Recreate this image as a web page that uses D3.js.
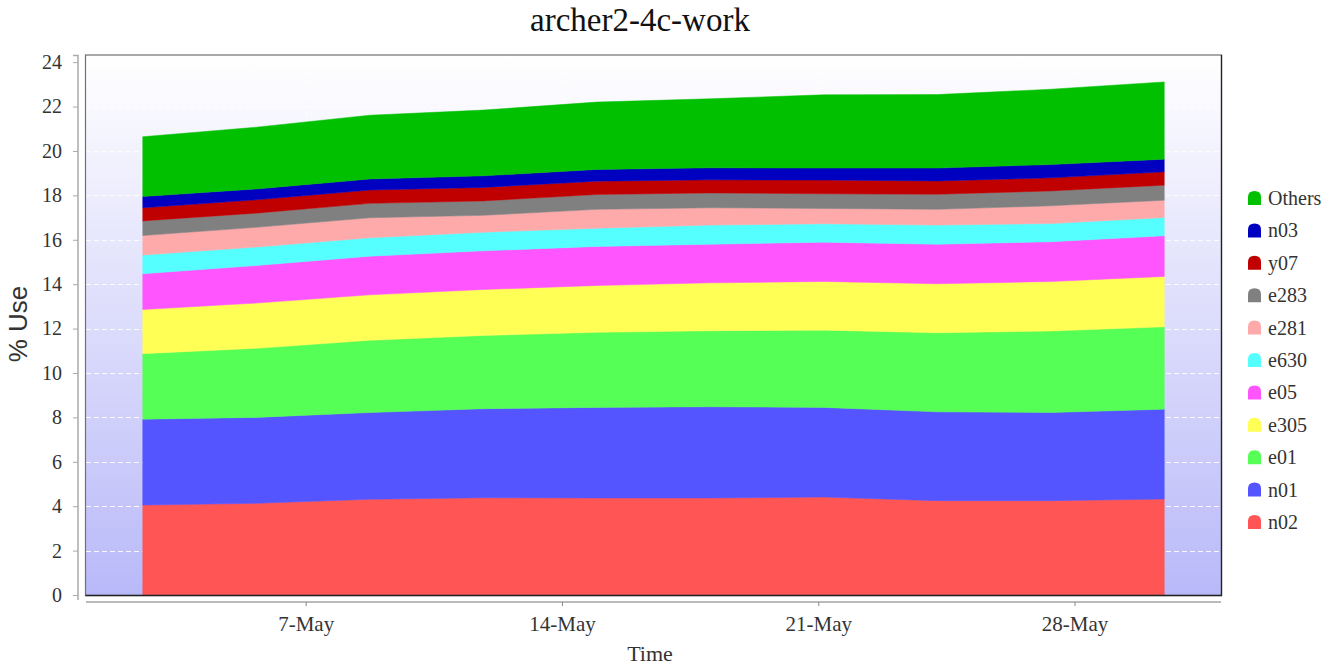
<!DOCTYPE html>
<html>
<head>
<meta charset="utf-8">
<script src="https://cdn.jsdelivr.net/npm/d3@7"></script>
<style>
  html, body { margin: 0; padding: 0; background: #fff; }
  svg { display: block; }
</style>
</head>
<body>
<svg id="chart" width="1338" height="666"></svg>
<script>
// ---- data ----
const times = [
  "2023-05-02T13:12:00Z", "2023-05-05T15:36:00Z", "2023-05-08T18:00:00Z",
  "2023-05-11T20:24:00Z", "2023-05-14T22:48:00Z", "2023-05-18T01:12:00Z",
  "2023-05-21T03:36:00Z", "2023-05-24T06:00:00Z", "2023-05-27T08:24:00Z",
  "2023-05-30T10:48:00Z"
];
// stacking order bottom -> top
const seriesNames = ["n02", "n01", "e01", "e305", "e05", "e630", "e281", "e283", "y07", "n03", "Others"];
const n02    = [4.05, 4.13, 4.31, 4.38, 4.37, 4.37, 4.41, 4.25, 4.25, 4.32];
const n01    = [3.87, 3.87, 3.91, 4.01, 4.08, 4.11, 4.04, 4.00, 3.97, 4.05];
const e01    = [2.95, 3.11, 3.25, 3.30, 3.38, 3.42, 3.48, 3.56, 3.67, 3.71];
const e305   = [1.99, 2.04, 2.05, 2.07, 2.11, 2.16, 2.19, 2.21, 2.23, 2.27];
const e05    = [1.61, 1.69, 1.74, 1.74, 1.76, 1.74, 1.77, 1.78, 1.79, 1.83];
const e630   = [0.84, 0.83, 0.83, 0.84, 0.82, 0.86, 0.83, 0.86, 0.82, 0.82];
const e281   = [0.88, 0.89, 0.90, 0.76, 0.85, 0.78, 0.69, 0.71, 0.80, 0.78];
const e283   = [0.66, 0.64, 0.65, 0.65, 0.67, 0.67, 0.66, 0.68, 0.67, 0.68];
const y07    = [0.59, 0.60, 0.60, 0.61, 0.60, 0.59, 0.62, 0.60, 0.59, 0.60];
const n03    = [0.51, 0.49, 0.50, 0.52, 0.53, 0.54, 0.54, 0.58, 0.60, 0.57];
const Others = [2.69, 2.78, 2.87, 2.96, 3.03, 3.11, 3.30, 3.31, 3.39, 3.48];
const seriesColors = ["#ff5555", "#5555ff", "#55ff55", "#ffff55", "#ff55ff", "#55ffff",
                      "#ffaaaa", "#808080", "#c00000", "#0000c0", "#00c000"];
const yTicks = [0, 2, 4, 6, 8, 10, 12, 14, 16, 18, 20, 22, 24];
const xTicks = ["2023-05-07", "2023-05-14", "2023-05-21", "2023-05-28"];
const xDomain = ["2023-05-01", "2023-06-01"];
const yMax = 24.3;
const titleText = "archer2-4c-work";
const xLabel = "Time";
const yLabel = "% Use";

// ---- build table ----
const valueArrays = {n02, n01, e01, e305, e05, e630, e281, e283, y07, n03, Others};
const table = times.map((t, i) => {
  const row = {time: new Date(t)};
  seriesNames.forEach(s => row[s] = valueArrays[s][i]);
  return row;
});

// ---- layout ----
const svg = d3.select("#chart");
const plot = {left: 86, right: 1221, top: 55.5, bottom: 595};
const SERIF = "'Liberation Serif', 'Times New Roman', serif";

const x = d3.scaleUtc()
  .domain(xDomain.map(d => new Date(d + "T00:00:00Z")))
  .range([plot.left, plot.right]);
const y = d3.scaleLinear().domain([0, yMax]).range([plot.bottom, plot.top]);

// background gradient
const defs = svg.append("defs");
const grad = defs.append("linearGradient").attr("id", "bg").attr("x1", 0).attr("y1", 0).attr("x2", 0).attr("y2", 1);
grad.append("stop").attr("offset", "0%").attr("stop-color", "#ffffff");
grad.append("stop").attr("offset", "100%").attr("stop-color", "#b9b9f9");

svg.append("rect")
  .attr("x", plot.left).attr("y", plot.top)
  .attr("width", plot.right - plot.left).attr("height", plot.bottom - plot.top)
  .attr("fill", "url(#bg)");

// grid lines
const grid = svg.append("g");
grid.selectAll("line.h").data(yTicks.filter(d => d > 0)).join("line")
  .attr("x1", plot.left).attr("x2", plot.right)
  .attr("y1", d => Math.round(y(d)) + 0.5).attr("y2", d => Math.round(y(d)) + 0.5)
  .attr("stroke", "#ffffff").attr("stroke-width", 1.2).attr("stroke-dasharray", "5,3").attr("opacity", 0.9);
grid.selectAll("line.v").data(xTicks).join("line")
  .attr("x1", d => Math.round(x(new Date(d + "T00:00:00Z"))) + 0.5)
  .attr("x2", d => Math.round(x(new Date(d + "T00:00:00Z"))) + 0.5)
  .attr("y1", plot.top).attr("y2", plot.bottom)
  .attr("stroke", "#ffffff").attr("stroke-width", 1).attr("stroke-dasharray", "5,3").attr("opacity", 0.8);

// stacked areas
const stack = d3.stack().keys(seriesNames);
const stacked = stack(table);
const area = d3.area()
  .x(d => x(d.data.time))
  .y0(d => y(d[0]))
  .y1(d => y(d[1]));
svg.append("g").selectAll("path").data(stacked).join("path")
  .attr("d", area)
  .attr("fill", (d, i) => seriesColors[i])
  .attr("stroke", (d, i) => seriesColors[i])
  .attr("stroke-width", 0.5);

// plot border
svg.append("rect")
  .attr("x", plot.left - 0.5).attr("y", plot.top - 0.5)
  .attr("width", plot.right - plot.left + 1).attr("height", plot.bottom - plot.top + 1)
  .attr("fill", "none").attr("stroke", "#707070").attr("stroke-width", 1.2);
svg.append("path")
  .attr("d", `M${plot.left - 0.5},${plot.bottom + 0.5}H${plot.right + 0.5}V${plot.top - 0.5}`)
  .attr("fill", "none").attr("stroke", "#222").attr("stroke-width", 1.3);

// y axis
const yAxis = d3.axisLeft(y).tickValues(yTicks).tickSize(5).tickPadding(11).tickFormat(d3.format("d"));
const gy = svg.append("g").attr("transform", "translate(78,0)").call(yAxis);
gy.select(".domain").attr("stroke", "#aaaaaa").attr("stroke-width", 1.5)
  .attr("d", `M-5,${plot.top}H0V${plot.bottom + 5}`);
gy.selectAll(".tick line").attr("stroke", "#aaaaaa");
gy.selectAll(".tick text")
  .style("font-family", SERIF).style("font-size", "20px").attr("fill", "#333");

// x axis
const xAxis = d3.axisBottom(x)
  .tickValues(xTicks.map(d => new Date(d + "T00:00:00Z")))
  .tickSize(4).tickPadding(10)
  .tickFormat(d3.utcFormat("%-d-%b"));
const gx = svg.append("g").attr("transform", "translate(0,602)").call(xAxis);
gx.select(".domain").attr("stroke", "#bbbbbb").attr("stroke-width", 1.8)
  .attr("d", `M${plot.left},0H${plot.right}`);
gx.selectAll(".tick line").attr("stroke", "#888");
gx.selectAll(".tick text")
  .style("font-family", SERIF).style("font-size", "21px").attr("fill", "#333");

// title
svg.append("text").attr("x", 640).attr("y", 31).attr("text-anchor", "middle")
  .style("font-family", SERIF).style("font-size", "33px").attr("fill", "#111").text(titleText);

// axis labels
svg.append("text").attr("x", 650).attr("y", 661).attr("text-anchor", "middle")
  .style("font-family", SERIF).style("font-size", "22px").attr("fill", "#333").text(xLabel);
svg.append("text").attr("transform", "translate(27,324) rotate(-90)").attr("text-anchor", "middle")
  .style("font-family", "'Liberation Sans', Arial, sans-serif").style("font-size", "26px")
  .attr("fill", "#333").text(yLabel);

// legend (top: Others, bottom: n02)
const legendOrder = seriesNames.map((s, i) => ({name: s, color: seriesColors[i]})).reverse();
const legendY = d3.scalePoint().domain(legendOrder.map(d => d.name)).range([198, 522]);
const lg = svg.append("g");
const item = lg.selectAll("g").data(legendOrder).join("g")
  .attr("transform", d => `translate(1248,${legendY(d.name)})`);
item.append("path")
  .attr("d", "M0,7V-1Q0,-7 6.5,-7Q13,-7 13,-1V7Z")
  .attr("fill", d => d.color);
item.append("text").attr("x", 20).attr("y", 7)
  .style("font-family", SERIF).style("font-size", "20px").attr("fill", "#333").text(d => d.name);
</script>
</body>
</html>
